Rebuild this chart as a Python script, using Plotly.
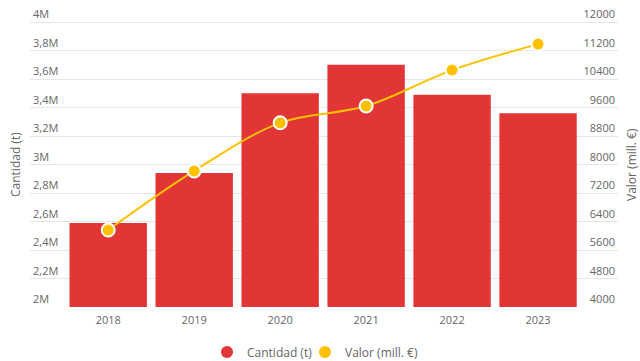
import plotly.graph_objects as go

years = ["2018", "2019", "2020", "2021", "2022", "2023"]
cantidad = [2590000, 2940000, 3500000, 3700000, 3490000, 3360000]
valor = [6160, 7820, 9170, 9640, 10650, 11380]

left_tickvals = [2000000, 2200000, 2400000, 2600000, 2800000, 3000000,
                 3200000, 3400000, 3600000, 3800000, 4000000]
left_ticktext = ["2M", "2,2M", "2,4M", "2,6M", "2,8M", "3M",
                 "3,2M", "3,4M", "3,6M", "3,8M", "4M"]
right_tickvals = [4000, 4800, 5600, 6400, 7200, 8000, 8800, 9600, 10400, 11200, 12000]
right_ticktext = [str(v) for v in right_tickvals]

RED = "#E23535"
YEL = "#FFC000"
GRAY = "#666666"
FONT = "Open Sans"

L, R, T, B = 30, 22, 6, 54
W, H = 640, 361
pw = W - L - R
ph = H - T - B
extra = 16
span_px = ph - extra
ytop_left = 2000000 + 2000000 * ph / span_px
ytop_right = 4000 + 8000 * ph / span_px

fig = go.Figure()
fig.add_trace(go.Bar(x=years, y=cantidad, name="Cantidad (t)", marker_color=RED,
                     marker_line_width=0, showlegend=False, yaxis="y"))
fig.add_trace(go.Scatter(x=years, y=valor, name="Valor (mill. €)", yaxis="y2",
                         mode="lines+markers", line=dict(color=YEL, width=2, shape="spline"),
                         marker=dict(size=13, color=YEL, line=dict(color="white", width=2)),
                         showlegend=False))
fig.add_trace(go.Scatter(x=[None], y=[None], mode="markers", name="Cantidad (t)",
                         marker=dict(size=12, color=RED), legend="legend"))
fig.add_trace(go.Scatter(x=[None], y=[None], mode="markers", name="Valor (mill. €)",
                         marker=dict(size=12, color=YEL), legend="legend2"))

leg_y = -(352 - (H - B)) / ph
fig.update_layout(
    width=W, height=H,
    margin=dict(l=L, r=R, t=T, b=B, autoexpand=False),
    paper_bgcolor="white", plot_bgcolor="white",
    font=dict(family=FONT, color=GRAY, size=11),
    bargap=0.1,
    xaxis=dict(range=[-0.91, 5.93], showgrid=False, showline=False, ticks="",
               tickfont=dict(size=11, color=GRAY), zeroline=False, automargin=False,
               ticklabelstandoff=5),
    yaxis=dict(range=[2000000, ytop_left], tickvals=left_tickvals, ticktext=left_ticktext,
               ticklabelposition="inside top", showgrid=True, gridcolor="#E6E6E6",
               gridwidth=1, zeroline=False, showline=False, automargin=False,
               tickfont=dict(size=11, color=GRAY)),
    yaxis2=dict(range=[4000, ytop_right], tickvals=right_tickvals, ticktext=right_ticktext,
                overlaying="y", side="right", ticklabelposition="inside top",
                showgrid=False, zeroline=False, showline=False, automargin=False,
                tickfont=dict(size=11, color=GRAY)),
    legend=dict(orientation="h", x=(228 - 21 - L) / pw, xanchor="left",
                y=leg_y, yanchor="middle", font=dict(size=12, color=GRAY),
                bgcolor="rgba(0,0,0,0)"),
    legend2=dict(orientation="h", x=(326 - 21 - L) / pw, xanchor="left",
                 y=leg_y, yanchor="middle", font=dict(size=12, color=GRAY),
                 bgcolor="rgba(0,0,0,0)"),
    annotations=[
        dict(text="Cantidad (t)", xref="paper", yref="paper", x=-(L - 15) / pw,
             y=(H - B - 165) / ph, textangle=-90, showarrow=False,
             xanchor="center", yanchor="middle", font=dict(size=12, color=GRAY)),
        dict(text="Valor (mill. €)", xref="paper", yref="paper", x=1 + (631 - (W - R)) / pw,
             y=(H - B - 165) / ph, textangle=-90, showarrow=False,
             xanchor="center", yanchor="middle", font=dict(size=12, color=GRAY)),
    ],
)

fig.write_html("out.html", config={"displayModeBar": False},
               post_script="document.body.style.margin='0';document.body.style.padding='0';")
